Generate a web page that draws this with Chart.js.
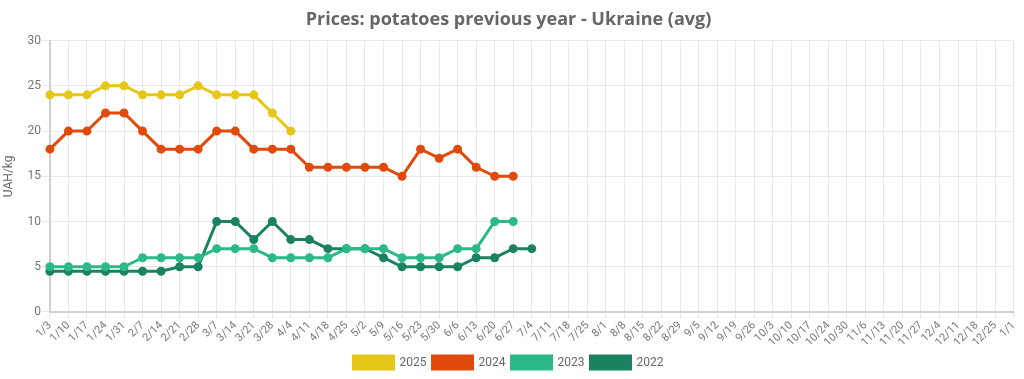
<!DOCTYPE html>
<html>
<head>
<meta charset="utf-8">
<script src="https://cdn.jsdelivr.net/npm/chart.js@4/dist/chart.umd.min.js"></script>
<style>
html,body{margin:0;padding:0;background:#fff;}
#wrap{width:1024px;height:379px;position:relative;}
</style>
</head>
<body>
<div id="wrap"><canvas id="c" width="1024" height="379"></canvas></div>
<script>
const labels = ["1/3","1/10","1/17","1/24","1/31","2/7","2/14","2/21","2/28","3/7","3/14","3/21","3/28","4/4","4/11","4/18","4/25","5/2","5/9","5/16","5/23","5/30","6/6","6/13","6/20","6/27","7/4","7/11","7/18","7/25","8/1","8/8","8/15","8/22","8/29","9/5","9/12","9/19","9/26","10/3","10/10","10/17","10/24","10/30","11/6","11/13","11/20","11/27","12/4","12/11","12/18","12/25","1/1"];
const s2025 = [24,24,24,25,25,24,24,24,25,24,24,24,22,20];
const s2024 = [18,20,20,22,22,20,18,18,18,20,20,18,18,18,16,16,16,16,16,15,18,17,18,16,15,15];
const s2023 = [5,5,5,5,5,6,6,6,6,7,7,7,6,6,6,6,7,7,7,6,6,6,7,7,10,10];
const s2022 = [4.5,4.5,4.5,4.5,4.5,4.5,4.5,5,5,10,10,8,10,8,8,7,7,7,6,5,5,5,5,6,6,7,7];
const seriesNames = ["2025","2024","2023","2022"];
const colors = ["#e6c619","#e04a0a","#2bb98a","#1a8260"];

function ds(name, data, color){
  return {label:name,data:data,borderColor:color,backgroundColor:color,pointBackgroundColor:color,pointBorderColor:color,
    borderWidth:3,pointRadius:3,pointHoverRadius:4,tension:0,fill:false};
}
new Chart(document.getElementById('c'),{
  type:'line',
  data:{labels:labels,datasets:[ds(seriesNames[0],s2025,colors[0]),ds(seriesNames[1],s2024,colors[1]),ds(seriesNames[2],s2023,colors[2]),ds(seriesNames[3],s2022,colors[3])]},
  options:{
    responsive:false,animation:false,
    layout:{padding:{left:0,right:7,top:5,bottom:0}},
    plugins:{
      title:{display:true,text:"Prices: potatoes previous year - Ukraine (avg)",color:"#666",font:{family:"Open Sans",size:18,weight:"bold"},padding:{top:4,bottom:10}},
      legend:{position:'bottom',labels:{boxWidth:40,boxHeight:13,color:"#666",font:{family:"Roboto",size:12},padding:6}},
      tooltip:{enabled:false}
    },
    scales:{
      x:{offset:false,grid:{color:"#e8e8e8",drawTicks:true,tickLength:6},border:{color:"#d0d0d0",width:2},
        ticks:{color:"#777",font:{family:"Roboto",size:11},maxRotation:45,minRotation:45,autoSkip:false,padding:1}},
      y:{min:0,max:30,grid:{color:"#e8e8e8",tickLength:8},border:{color:"#d0d0d0",width:2},
        ticks:{stepSize:5,color:"#777",font:{family:"Roboto",size:12},padding:1},
        title:{display:true,text:"UAH/kg",color:"#666",font:{family:"Roboto",size:12},padding:{top:2,bottom:10}}}
    }
  }
});
</script>
</body>
</html>
